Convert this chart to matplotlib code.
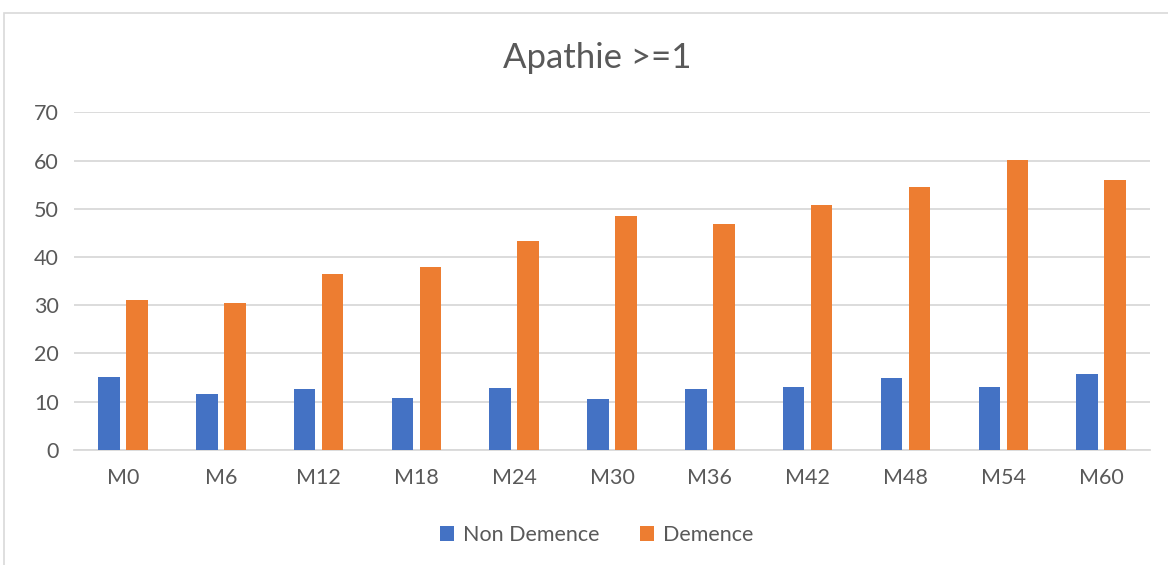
import numpy as np
import matplotlib
matplotlib.use('Agg')
import matplotlib.pyplot as plt
from matplotlib.patches import Rectangle

# Data
categories = ['M0', 'M6', 'M12', 'M18', 'M24', 'M30', 'M36', 'M42', 'M48', 'M54', 'M60']
non_demence = [15.1, 11.6, 12.7, 10.8, 12.8, 10.5, 12.7, 13.0, 14.9, 13.1, 15.7]
demence = [31.0, 30.5, 36.5, 37.9, 43.4, 48.5, 46.8, 50.7, 54.6, 60.2, 56.0]

BLUE = '#4472C4'
ORANGE = '#ED7D31'
TEXT = '#595959'
GRID = '#D9D9D9'

plt.rcParams['font.family'] = ['Lato', 'DejaVu Sans']

fig = plt.figure(figsize=(11.68, 5.65), dpi=100)
ax = fig.add_axes([0.0634, 0.204, 0.9212, 0.597])

# chart border
fig.patches.append(Rectangle((4 / 1168, -0.1), 1.2, 1 - 13 / 565 + 0.1,
                             transform=fig.transFigure, fill=False,
                             edgecolor='#D9D9D9', linewidth=1.2))

x = np.arange(len(categories))
w = 0.22
off = 0.143
ax.bar(x - off, non_demence, w, color=BLUE, label='Non Demence', zorder=3)
ax.bar(x + off, demence, w, color=ORANGE, label='Demence', zorder=3)

ax.set_xlim(-0.5, len(categories) - 0.5)
ax.set_ylim(0, 70)
ax.set_yticks(range(0, 71, 10))
ax.set_xticks(x)
ax.set_xticklabels(categories)
ax.grid(True, axis='y', color=GRID, linewidth=1.3, zorder=0)
ax.tick_params(axis='both', length=0, labelsize=15.5, colors=TEXT)
ax.tick_params(axis='y', pad=11)
ax.tick_params(axis='x', pad=13)
for s in ['top', 'right', 'left']:
    ax.spines[s].set_visible(False)
ax.spines['bottom'].set_color(GRID)
ax.spines['bottom'].set_linewidth(1.3)

fig.text(0.511, 1 - 58 / 565, 'Apathie >=1', ha='center', va='center',
         fontsize=25, color=TEXT)

leg = fig.legend(loc='center', bbox_to_anchor=(0.511, 1 - 535 / 565), ncol=2,
                 frameon=False, fontsize=15.5, handlelength=0.65, handleheight=0.65,
                 handletextpad=0.4, columnspacing=1.9)
for t in leg.get_texts():
    t.set_color(TEXT)

plt.savefig('out.png', dpi=100)
plt.close()
